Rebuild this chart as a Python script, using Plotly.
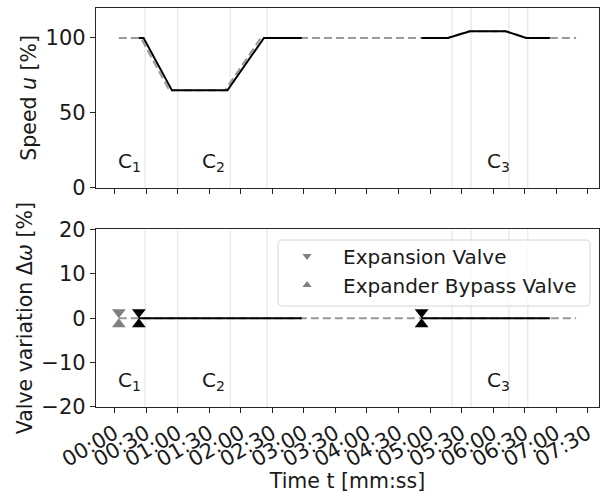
import plotly.graph_objects as go

# --- data -----------------------------------------------------------------
# speed set-point (dashed) and measured speed (solid), time in seconds
ref_t = [4, 25, 52, 105, 139, 317, 337, 372, 392, 439]
ref_u = [100, 100, 65, 65, 100, 100, 104.5, 104.5, 100, 100]

run1_t = [23, 27.5, 54.5, 107.3, 142, 178]
run1_u = [100, 100, 65, 65, 100, 100]
run2_t = [292, 317, 338, 372, 391.5, 414]
run2_u = [100, 100, 104.5, 104.5, 100, 100]

# valve variation
ref_w_t = [4, 439]
ref_w = [0, 0]
run1_w_t = [23, 60, 135, 140, 155, 160, 178]
run1_w = [0, 0, 0, -0.15, -0.15, 0, 0]
run2_w_t = [292, 414]
run2_w = [0, 0]

# valve action markers (start of each segment)
marker_t = [4, 23, 292]
marker_w = [0, 0, 0]
marker_colors = ["#808080", "#000000", "#000000"]

# event boundaries (light vertical lines)
event_t = [29, 60, 110, 145, 321, 339, 375, 393]

# case labels
case_labels = ["C<sub>1</sub>", "C<sub>2</sub>", "C<sub>3</sub>"]
case_t = [1.5, 81, 352]

tick_vals = list(range(0, 451, 30))
tick_text = [f"{v // 60:02d}:{v % 60:02d}" for v in tick_vals]

# --- styling ---------------------------------------------------------------
FONT = "DejaVu Sans"
FS = 21
TITLE_FS = 20.5
GREY = "#999999"
BLACK = "#000000"
TXT = "#1a1a1a"
LW = 2
MS = 12  # triangle marker size

fig = go.Figure()


def add_series(x, y, ax, **kw):
    fig.add_trace(go.Scatter(x=x, y=y, xaxis=f"x{ax}", yaxis=f"y{ax}",
                             mode="lines", showlegend=False,
                             hoverinfo="skip", **kw))


# top panel: speed
add_series(ref_t, ref_u, "", line=dict(color=GREY, width=LW, dash="8px,4px"))
add_series(run1_t, run1_u, "", line=dict(color=BLACK, width=LW))
add_series(run2_t, run2_u, "", line=dict(color=BLACK, width=LW))

# bottom panel: valve variation
add_series(ref_w_t, ref_w, "2", line=dict(color=GREY, width=LW, dash="8px,4px"))
add_series(run1_w_t, run1_w, "2", line=dict(color=BLACK, width=LW))
add_series(run2_w_t, run2_w, "2", line=dict(color=BLACK, width=LW))

# valve markers: down-triangle sitting on the point, up-triangle hanging below
fig.add_trace(go.Scatter(
    x=marker_t, y=marker_w, xaxis="x2", yaxis="y2", mode="markers",
    showlegend=False, hoverinfo="skip",
    marker=dict(symbol="triangle-up", angle=180, standoff=MS / 2,
                size=MS, color=marker_colors, line=dict(width=0))))
fig.add_trace(go.Scatter(
    x=marker_t, y=marker_w, xaxis="x2", yaxis="y2", mode="markers",
    showlegend=False, hoverinfo="skip",
    marker=dict(symbol="triangle-up", angle=0, standoff=MS / 2,
                size=MS, color=marker_colors, line=dict(width=0))))

# legend entries
fig.add_trace(go.Scatter(x=[None], y=[None], xaxis="x2", yaxis="y2",
                         mode="markers", name="Expansion Valve",
                         legendgroup="a",
                         marker=dict(symbol="triangle-down", size=8,
                                     color="#808080")))
fig.add_trace(go.Scatter(x=[None], y=[None], xaxis="x2", yaxis="y2",
                         mode="markers", name="Expander Bypass Valve",
                         legendgroup="b",
                         marker=dict(symbol="triangle-up", size=8,
                                     color="#808080")))

# event lines in both panels
shapes = []
for t in event_t:
    for xr, yr in (("x", "y domain"), ("x2", "y2 domain")):
        shapes.append(dict(type="line", xref=xr, yref=yr, x0=t, x1=t,
                           y0=0, y1=1, layer="below",
                           line=dict(color="#ebebeb", width=1.5)))

# rounded legend frame (paper coordinates)
bx0, bx1, by0, by1 = 0.3618, 0.9821, 0.2531, 0.4185
rx, ry = 0.009, 0.011
frame = (f"M {bx0 + rx},{by0} L {bx1 - rx},{by0} Q {bx1},{by0} {bx1},{by0 + ry} "
         f"L {bx1},{by1 - ry} Q {bx1},{by1} {bx1 - rx},{by1} "
         f"L {bx0 + rx},{by1} Q {bx0},{by1} {bx0},{by1 - ry} "
         f"L {bx0},{by0 + ry} Q {bx0},{by0} {bx0 + rx},{by0} Z")
shapes.append(dict(type="path", path=frame, xref="paper", yref="paper",
                   layer="above", fillcolor="rgba(255,255,255,0.8)",
                   line=dict(color="#d5d5d5", width=1)))

annotations = []
for lbl, t in zip(case_labels, case_t):
    for xr, yr in (("x", "y domain"), ("x2", "y2 domain")):
        annotations.append(dict(text=lbl, x=t, y=0.145, xref=xr, yref=yr,
                                xanchor="left", yanchor="middle",
                                showarrow=False,
                                font=dict(family=FONT, size=20, color=TXT)))

span = max(ref_t) - min(ref_t)
x_range = [min(ref_t) - 0.05 * span, max(ref_t) + 0.05 * span]

axis_common = dict(showline=True, mirror=True, linecolor="#262626", linewidth=1.2,
                   ticks="outside", ticklen=5, tickwidth=1.2, tickcolor="#262626",
                   showgrid=False, zeroline=False, automargin=False,
                   tickfont=dict(family=FONT, size=FS, color=TXT))

fig.update_layout(
    width=603, height=493,
    margin=dict(l=96, r=4, t=8, b=86),
    paper_bgcolor="white", plot_bgcolor="white",
    font=dict(family=FONT, size=FS, color=TXT),
    shapes=shapes, annotations=annotations,
    xaxis=dict(domain=[0, 1], anchor="y", range=x_range, tickvals=tick_vals,
               showticklabels=False, **axis_common),
    yaxis=dict(domain=[0.5496, 1], anchor="x", range=[0, 120],
               tickvals=[0, 50, 100],
               title=dict(text="Speed <i>u</i> [%]", standoff=3,
                          font=dict(family=FONT, size=TITLE_FS)),
               **axis_common),
    xaxis2=dict(domain=[0, 1], anchor="y2", range=x_range, tickvals=tick_vals,
                ticktext=tick_text, tickangle=-30,
                title=dict(text="Time t [mm:ss]", standoff=2,
                           font=dict(family=FONT, size=TITLE_FS)),
                **axis_common),
    yaxis2=dict(domain=[0, 0.4454], anchor="x2", range=[-20, 20],
                tickvals=[-20, -10, 0, 10, 20],
                title=dict(text="Valve variation Δ<i>ω</i> [%]", standoff=3,
                           font=dict(family=FONT, size=TITLE_FS)),
                **axis_common),
    legend=dict(x=0.348, y=0.4273, xanchor="left", yanchor="top",
                xref="paper", yref="paper", traceorder="grouped",
                bgcolor="rgba(0,0,0,0)", borderwidth=0,
                font=dict(family=FONT, size=20, color=TXT),
                itemwidth=62, tracegroupgap=0),
)

fig.write_html("out.html")
